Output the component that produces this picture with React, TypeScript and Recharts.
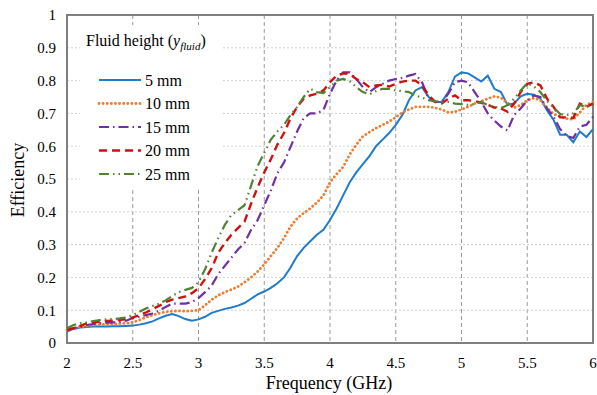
import React from 'react';
import { LineChart, Line, XAxis, YAxis, CartesianGrid, ReferenceArea, Customized } from 'recharts';

const FREQ = [
  2.0, 2.05, 2.1, 2.15, 2.2, 2.25, 2.3, 2.35, 2.4, 2.45,
  2.5, 2.55, 2.6, 2.65, 2.7, 2.75, 2.8, 2.85, 2.9, 2.95,
  3.0, 3.05, 3.1, 3.15, 3.2, 3.25, 3.3, 3.35, 3.4, 3.45,
  3.5, 3.55, 3.6, 3.65, 3.7, 3.75, 3.8, 3.85, 3.9, 3.95,
  4.0, 4.05, 4.1, 4.15, 4.2, 4.25, 4.3, 4.35, 4.4, 4.45,
  4.5, 4.55, 4.6, 4.65, 4.7, 4.75, 4.8, 4.85, 4.9, 4.95,
  5.0, 5.05, 5.1, 5.15, 5.2, 5.25, 5.3, 5.35, 5.4, 5.45,
  5.5, 5.55, 5.6, 5.65, 5.7, 5.75, 5.8, 5.85, 5.9, 5.95,
  6.0,
];

const MM5 = [
  0.035, 0.043, 0.047, 0.049, 0.05, 0.05, 0.05, 0.051, 0.051, 0.052,
  0.053, 0.056, 0.06, 0.066, 0.075, 0.083, 0.088, 0.082, 0.073, 0.068,
  0.072, 0.08, 0.092, 0.098, 0.104, 0.108, 0.114, 0.122, 0.135, 0.148,
  0.157, 0.168, 0.182, 0.2, 0.23, 0.265, 0.29, 0.31, 0.33, 0.345,
  0.375, 0.41, 0.45, 0.49, 0.52, 0.545, 0.57, 0.6, 0.62, 0.64,
  0.665, 0.695, 0.74, 0.77, 0.78, 0.75, 0.735, 0.735, 0.765, 0.812,
  0.825, 0.822, 0.81, 0.797, 0.815, 0.775, 0.765, 0.726, 0.73, 0.752,
  0.76, 0.757, 0.745, 0.71, 0.68, 0.635, 0.635, 0.612, 0.645, 0.628,
  0.652,
];

const MM10 = [
  0.04, 0.045, 0.05, 0.052, 0.055, 0.056, 0.057, 0.058, 0.059, 0.06,
  0.063, 0.07, 0.078, 0.085, 0.09, 0.095, 0.097, 0.098, 0.097, 0.098,
  0.1, 0.115, 0.132, 0.145, 0.155, 0.163, 0.172, 0.185, 0.2, 0.218,
  0.24, 0.265, 0.29, 0.32, 0.355, 0.38, 0.396, 0.41, 0.428, 0.45,
  0.49, 0.515, 0.537, 0.575, 0.605, 0.63, 0.643, 0.655, 0.665, 0.675,
  0.688, 0.703, 0.712, 0.72, 0.72, 0.72, 0.717, 0.712, 0.703, 0.705,
  0.712, 0.72, 0.73, 0.737, 0.745, 0.752, 0.748, 0.73, 0.718, 0.725,
  0.74, 0.747, 0.74, 0.718, 0.698, 0.69, 0.684, 0.682, 0.703, 0.726,
  0.735,
];

const MM15 = [
  0.04, 0.045, 0.05, 0.055, 0.058, 0.06, 0.062, 0.063, 0.064, 0.068,
  0.076, 0.08, 0.085, 0.09, 0.098, 0.11, 0.12, 0.12, 0.12, 0.125,
  0.137, 0.155, 0.175, 0.21, 0.235, 0.26, 0.285, 0.305, 0.345, 0.375,
  0.42, 0.465, 0.518, 0.55, 0.598, 0.645, 0.686, 0.7, 0.7, 0.71,
  0.76, 0.8, 0.825, 0.825, 0.805, 0.78, 0.765, 0.78, 0.79, 0.8,
  0.805, 0.808, 0.815, 0.82, 0.795, 0.745, 0.735, 0.735, 0.76, 0.795,
  0.8, 0.795, 0.765, 0.735, 0.7, 0.678, 0.66, 0.648, 0.695, 0.715,
  0.74, 0.755, 0.75, 0.715, 0.69, 0.652, 0.632, 0.625, 0.66, 0.665,
  0.69,
];

const MM20 = [
  0.04, 0.045, 0.052, 0.06, 0.063, 0.065, 0.067, 0.068, 0.07, 0.073,
  0.078, 0.085, 0.093, 0.103, 0.113, 0.125, 0.132, 0.137, 0.142, 0.152,
  0.167, 0.195, 0.228, 0.275, 0.305, 0.33, 0.35, 0.37, 0.425, 0.475,
  0.52, 0.56, 0.605, 0.64, 0.685, 0.72, 0.745, 0.755, 0.76, 0.77,
  0.795, 0.815, 0.822, 0.82, 0.805, 0.795, 0.78, 0.785, 0.787, 0.782,
  0.79, 0.797, 0.8, 0.8, 0.785, 0.755, 0.735, 0.73, 0.745, 0.755,
  0.74, 0.74, 0.738, 0.732, 0.726, 0.718, 0.715, 0.705, 0.73, 0.765,
  0.79, 0.795, 0.785, 0.745, 0.72, 0.688, 0.688, 0.686, 0.73, 0.72,
  0.73,
];

const MM25 = [
  0.045, 0.055, 0.06, 0.063, 0.067, 0.07, 0.072, 0.073, 0.075, 0.078,
  0.085, 0.095, 0.105, 0.113, 0.12, 0.13, 0.143, 0.155, 0.162, 0.168,
  0.185, 0.225, 0.275, 0.32, 0.36, 0.39, 0.405, 0.42, 0.48, 0.54,
  0.58, 0.62, 0.645, 0.665, 0.695, 0.72, 0.75, 0.775, 0.765, 0.762,
  0.78, 0.8, 0.805, 0.798, 0.78, 0.765, 0.758, 0.768, 0.775, 0.775,
  0.77, 0.768, 0.765, 0.755, 0.748, 0.74, 0.737, 0.735, 0.735, 0.73,
  0.728, 0.726, 0.728, 0.735, 0.726, 0.72, 0.716, 0.725, 0.745, 0.77,
  0.792, 0.782, 0.765, 0.738, 0.718, 0.698, 0.695, 0.7, 0.725, 0.72,
  0.726,
];

const X_TICKS = [2, 2.5, 3, 3.5, 4, 4.5, 5, 5.5, 6];
const Y_TICKS = [0, 0.1, 0.2, 0.3, 0.4, 0.5, 0.6, 0.7, 0.8, 0.9, 1];
const SERIES_LABELS = ['5 mm', '10 mm', '15 mm', '20 mm', '25 mm'];

const STYLES = [
  { key: 'mm5', color: '#1F7BCB', dash: undefined as string | undefined, width: 2, cap: 'butt' },
  { key: 'mm10', color: '#ED7D31', dash: '0.1 4', width: 2.8, cap: 'round' },
  { key: 'mm15', color: '#7030A0', dash: '10 4 1.5 4', width: 2.2, cap: 'butt' },
  { key: 'mm20', color: '#D01010', dash: '8 5', width: 2.4, cap: 'butt' },
  { key: 'mm25', color: '#548235', dash: '10 4 1.5 4 1.5 4', width: 2.2, cap: 'butt' },
];

const data = FREQ.map((f, i) => ({
  f,
  mm5: MM5[i],
  mm10: MM10[i],
  mm15: MM15[i],
  mm20: MM20[i],
  mm25: MM25[i],
}));

const FONT = '"Liberation Serif", "Times New Roman", serif';

const Overlay = () => (
  <g>
    <rect x={80} y={25} width={142} height={162} fill="#ffffff" />
    <text x={86} y={46} fontFamily={FONT} fontSize={16} fill="#000">
      Fluid height (<tspan fontStyle="italic">y</tspan>
      <tspan fontStyle="italic" fontSize={11} dy={4}>fluid</tspan>
      <tspan dy={-4}>)</tspan>
    </text>
    {STYLES.map((s, i) => {
      const y = 80 + i * 23.5;
      return (
        <g key={s.key}>
          <line
            x1={99}
            x2={141}
            y1={y}
            y2={y}
            stroke={s.color}
            strokeWidth={s.width}
            strokeDasharray={s.dash}
            strokeLinecap={s.cap as any}
          />
          <text x={145} y={y + 5.5} fontFamily={FONT} fontSize={16} fill="#000">
            {SERIES_LABELS[i]}
          </text>
        </g>
      );
    })}
    <text
      x={18}
      y={180}
      transform="rotate(-90 18 180)"
      textAnchor="middle"
      dominantBaseline="central"
      fontFamily={FONT}
      fontSize={18}
      fill="#000"
    >
      Efficiency
    </text>
    <text x={329} y={389} textAnchor="middle" fontFamily={FONT} fontSize={18} fill="#000">
      Frequency (GHz)
    </text>
  </g>
);

export default function App() {
  return (
    <div style={{ position: 'absolute', left: 0, top: 0, width: 597, height: 395, background: '#fff' }}>
      <LineChart
        width={597}
        height={395}
        data={data}
        margin={{ top: 15, right: 4, bottom: 12, left: 0 }}
      >
        <CartesianGrid
          horizontal={false}
          vertical={true}
          stroke="#9a9a9a"
          strokeDasharray="4 3"
          verticalValues={[2.5, 3, 3.5, 4, 4.5, 5, 5.5]}
        />
        <CartesianGrid
          horizontal={true}
          vertical={false}
          stroke="#d0d0d0"
          strokeDasharray="2 2"
          horizontalValues={[0.1, 0.2, 0.3, 0.4, 0.5, 0.6, 0.7, 0.8, 0.9]}
        />
        <XAxis
          dataKey="f"
          type="number"
          domain={[2, 6]}
          ticks={X_TICKS}
          height={40}
          tickLine={false}
          axisLine={false}
          tickMargin={8}
          tick={{ fontFamily: FONT, fontSize: 15, fill: '#000' }}
          interval={0}
        />
        <YAxis
          type="number"
          domain={[0, 1]}
          ticks={Y_TICKS}
          width={67}
          tickLine={false}
          axisLine={false}
          tickMargin={5}
          tick={{ fontFamily: FONT, fontSize: 15, fill: '#000' }}
          interval={0}
        />
        <ReferenceArea x1={2} x2={6} y1={0} y2={1} fill="none" stroke="#7f7f7f" strokeWidth={2} />
        {STYLES.map((s) => (
          <Line
            key={s.key}
            dataKey={s.key}
            type="linear"
            stroke={s.color}
            strokeWidth={s.width}
            strokeDasharray={s.dash}
            strokeLinecap={s.cap as any}
            dot={false}
            activeDot={false}
            isAnimationActive={false}
          />
        ))}
        <Customized component={Overlay} />
      </LineChart>
    </div>
  );
}
